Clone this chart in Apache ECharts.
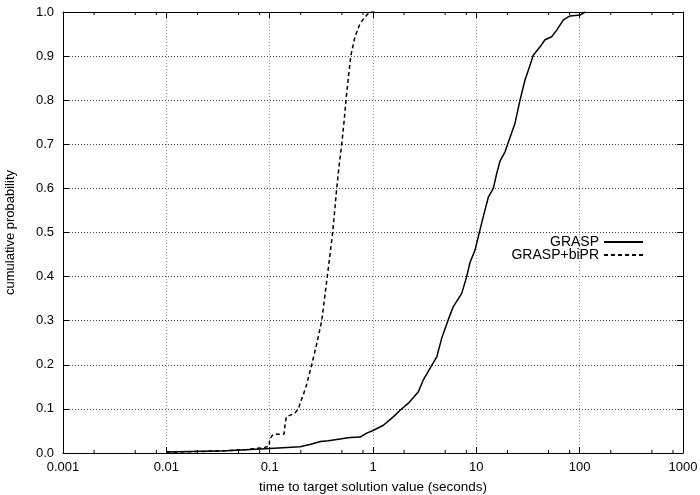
<!DOCTYPE html>
<html><head><meta charset="utf-8">
<script src="https://cdn.jsdelivr.net/npm/echarts@6/dist/echarts.min.js"></script>
<style>html,body{margin:0;padding:0;background:#fff}#c{width:700px;height:495px}</style>
</head><body><div id="c"></div>
<script>
const xTickLabels = ['0.001','0.01','0.1','1','10','100','1000'];
const minorMultipliers = [2, 5, 8];

const graspTimes = [0.01, 0.0384, 0.1, 0.197, 0.25, 0.31, 0.37, 0.48, 0.6, 0.75, 0.87, 1.0, 1.26, 1.57, 1.83, 2.2, 2.75, 3.07, 3.56, 4.14, 4.62, 5.36, 5.99, 7.22, 8.07, 8.68, 9.71, 10.85, 11.68, 13.06, 14.6, 15.75, 16.95, 18.95, 23.68, 26.47, 29.59, 31.86, 35.61, 41.33, 46.2, 53.6, 60, 69.5, 80.7, 100.8, 112.7];
const graspProb  = [0.002, 0.005, 0.01, 0.014, 0.02, 0.026, 0.028, 0.032, 0.035, 0.036, 0.045, 0.051, 0.063, 0.082, 0.097, 0.113, 0.139, 0.166, 0.192, 0.218, 0.26, 0.303, 0.332, 0.362, 0.40, 0.432, 0.46, 0.506, 0.536, 0.58, 0.60, 0.634, 0.662, 0.683, 0.748, 0.80, 0.846, 0.868, 0.902, 0.921, 0.937, 0.944, 0.959, 0.982, 0.991, 0.993, 1.0];

const biprTimes = [0.01, 0.03, 0.06, 0.086, 0.099, 0.1, 0.108, 0.138, 0.141, 0.145, 0.175, 0.189, 0.2247, 0.255, 0.287, 0.319, 0.3395, 0.361, 0.3837, 0.407, 0.426, 0.4455, 0.469, 0.498, 0.524, 0.548, 0.577, 0.609, 0.67, 0.749, 0.869, 0.936, 1.1];
const biprProb  = [0.002, 0.004, 0.008, 0.012, 0.015, 0.032, 0.042, 0.043, 0.065, 0.082, 0.09, 0.10, 0.15, 0.20, 0.25, 0.30, 0.35, 0.40, 0.45, 0.50, 0.55, 0.60, 0.65, 0.70, 0.75, 0.80, 0.85, 0.90, 0.944, 0.974, 0.993, 1.0, 1.0];

const FONT = 'Liberation Sans';
const minorTickValues = [];
for (let k = -3; k <= 2; k++) minorMultipliers.forEach(m => minorTickValues.push(+(m * Math.pow(10, k)).toPrecision(3)));

const chart = echarts.init(document.getElementById('c'), null, {renderer: 'canvas'});
const zip = (a, b) => a.map((v, i) => [v, b[i]]);

const axisLine = {show: true, onZero: false, lineStyle: {color: '#000', width: 1}};
const legendCommon = {right: 51, align: 'right', orient: 'vertical', itemWidth: 39, itemHeight: 2,
  itemStyle: {opacity: 0}, textStyle: {fontFamily: FONT, fontSize: 14, color: '#000'}};
chart.setOption({
  animation: false,
  backgroundColor: '#fff',
  textStyle: {fontFamily: FONT},
  grid: {left: 63, right: 17, top: 12, bottom: 42, containLabel: false, outerBoundsMode: 'none'},
  xAxis: [
    {type: 'log', logBase: 10, min: 0.001, max: 1000, splitNumber: 6, position: 'bottom',
     name: 'time to target solution value (seconds)', nameLocation: 'middle', nameGap: 27,
     nameTextStyle: {fontFamily: FONT, fontSize: 13.5, color: '#000'},
     axisLine: axisLine,
     axisTick: {show: true, inside: true, length: 6, lineStyle: {color: '#000'}},
     axisLabel: {fontFamily: FONT, fontSize: 13, color: '#000', margin: 8,
       formatter: v => xTickLabels[Math.round(Math.log10(v)) + 3]},
     splitLine: {show: true, lineStyle: {color: '#999', type: [1, 2], width: 1}},
     minorTick: {show: false}},
    {type: 'log', logBase: 10, min: 0.001, max: 1000, splitNumber: 6, position: 'top',
     axisLine: axisLine, axisLabel: {show: false}, splitLine: {show: false},
     axisTick: {show: true, inside: true, length: 6, lineStyle: {color: '#000'}}}
  ],
  yAxis: [
    {type: 'value', min: 0, max: 1, interval: 0.1, position: 'left',
     name: 'cumulative probability', nameLocation: 'middle', nameGap: 46,
     nameTextStyle: {fontFamily: FONT, fontSize: 13, color: '#000'},
     axisLine: axisLine,
     axisTick: {show: true, inside: true, length: 6, lineStyle: {color: '#000'}},
     axisLabel: {fontFamily: FONT, fontSize: 13, color: '#000', margin: 9, formatter: v => v.toFixed(1)},
     splitLine: {show: true, lineStyle: {color: '#444', type: [1, 2], width: 1}}},
    {type: 'value', min: 0, max: 1, interval: 0.1, position: 'right',
     axisLine: axisLine, axisLabel: {show: false}, splitLine: {show: false},
     axisTick: {show: true, inside: true, length: 6, lineStyle: {color: '#000'}}}
  ],
  legend: [
    Object.assign({data: ['GRASP'], top: 230}, legendCommon),
    Object.assign({data: ['GRASP+biPR'], top: 243}, legendCommon)
  ],
  series: [
    {name: 'minor ticks', type: 'custom', xAxisIndex: 0, yAxisIndex: 0, silent: true, clip: false,
     data: minorTickValues.map(v => [v, 0]),
     renderItem: function (params, api) {
       const b = api.coord([api.value(0), 0]);
       const t = api.coord([api.value(0), 1]);
       const st = {stroke: '#000', lineWidth: 1};
       return {type: 'group', children: [
         {type: 'line', shape: {x1: b[0], y1: b[1], x2: b[0], y2: b[1] - 3}, style: st},
         {type: 'line', shape: {x1: t[0], y1: t[1], x2: t[0], y2: t[1] + 3}, style: st}
       ]};
     }},
    {name: 'GRASP', type: 'line', xAxisIndex: 0, yAxisIndex: 0, symbol: 'none', smooth: false,
     data: zip(graspTimes, graspProb), lineStyle: {color: '#000', width: 1.5}, itemStyle: {color: '#000'}},
    {name: 'GRASP+biPR', type: 'line', xAxisIndex: 0, yAxisIndex: 0, symbol: 'none', smooth: false,
     data: zip(biprTimes, biprProb), lineStyle: {color: '#000', width: 1.5, type: [4, 3]}, itemStyle: {color: '#000'}}
  ]
});
</script>
</body></html>
